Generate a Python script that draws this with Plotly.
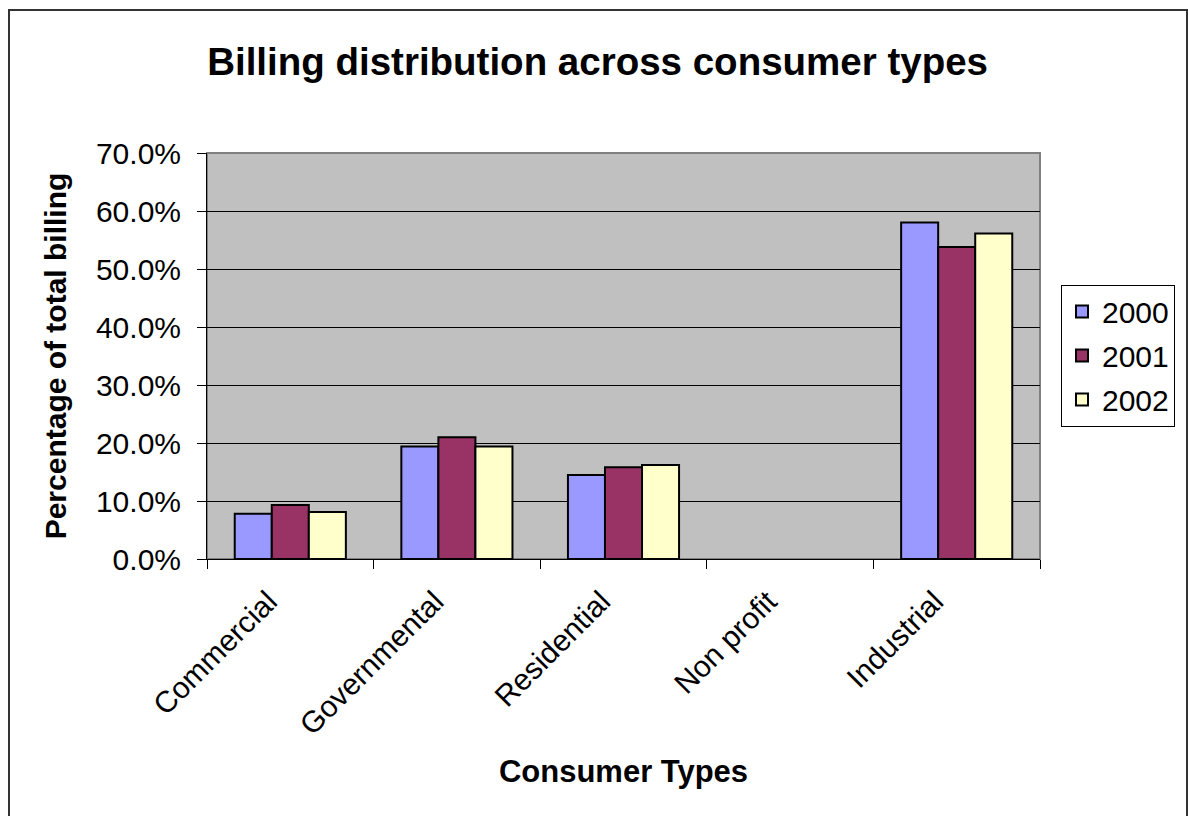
import plotly.graph_objects as go

categories = ["Commercial", "Governmental", "Residential", "Non profit", "Industrial"]
years = ["2000", "2001", "2002"]
values_2000 = [7.8, 19.4, 14.5, 0.0, 58.0]
values_2001 = [9.3, 21.0, 15.8, 0.0, 53.8]
values_2002 = [8.1, 19.4, 16.2, 0.0, 56.1]
colors = ["#9999FF", "#993366", "#FFFFCC"]
y_ticks = [0, 10, 20, 30, 40, 50, 60, 70]

W, H = 1188, 816
L, R, T, B = 207, 148, 153, 257
pw, ph = W - L - R, H - T - B

FONT = "Liberation Sans, Arial, sans-serif"

fig = go.Figure()
for name, vals, col in zip(years, [values_2000, values_2001, values_2002], colors):
    fig.add_trace(go.Bar(
        x=categories, y=vals, name=name, legendgroup=name,
        marker=dict(color=col, line=dict(color="black", width=[2 if v > 0 else 0 for v in vals])),
    ))

def px(x):
    return (x - L) / pw

def py(y):
    return (H - B - y) / ph

fig.update_layout(
    width=W, height=H,
    margin=dict(l=L, r=R, t=T, b=B),
    paper_bgcolor="white",
    plot_bgcolor="#C0C0C0",
    font=dict(family=FONT, size=30, color="black"),
    barmode="group",
    bargap=0.333,
    bargroupgap=0,
    title=dict(
        text="<b>Billing distribution across consumer types</b>",
        x=0.503, xanchor="center", y=1 - 62 / H, yanchor="middle", yref="container",
        font=dict(size=38.5, family=FONT, color="black"),
    ),
    xaxis=dict(
        type="category",
        tickangle=-45,
        ticks="outside", ticklen=9, tickcolor="black", tickwidth=1,
        tickson="boundaries",
        ticklabelshift=-22, ticklabelstandoff=12,
        showline=True, linecolor="black", linewidth=1,
        showgrid=False,
        tickfont=dict(size=30, family=FONT),
        title=dict(text="<b>Consumer Types</b>", font=dict(size=31, family=FONT), standoff=20),
    ),
    yaxis=dict(
        range=[0, 70],
        tickvals=y_ticks,
        ticktext=[f"{v:.1f}%" for v in y_ticks],
        ticks="outside", ticklen=9, tickcolor="black", tickwidth=1,
        ticklabelstandoff=10,
        showline=True, linecolor="black", linewidth=1,
        showgrid=True, gridcolor="black", gridwidth=1,
        zeroline=False,
        tickfont=dict(size=30, family=FONT),
        title=dict(text="<b>Percentage of total billing</b>", font=dict(size=30, family=FONT), standoff=20),
    ),
    legend=dict(
        x=px(1061), y=py(284.5), xanchor="left", yanchor="top",
        bgcolor="white", bordercolor="black", borderwidth=1,
        font=dict(size=30, family=FONT),
        traceorder="grouped", tracegroupgap=2,
    ),
    shapes=[
        dict(type="rect", xref="paper", yref="paper", x0=0, x1=1, y0=0, y1=1,
             line=dict(color="#808080", width=2), layer="below"),
        dict(type="rect", xref="paper", yref="paper",
             x0=px(9), x1=px(1187), y0=py(10), y1=py(840),
             line=dict(color="#333333", width=2), layer="above"),
    ],
)

fig.write_html("out.html")
